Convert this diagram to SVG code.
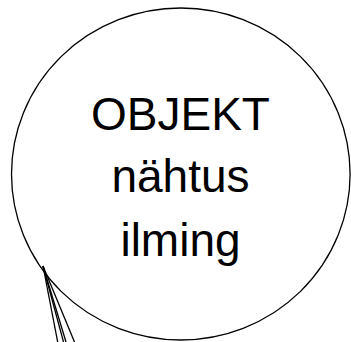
<svg xmlns="http://www.w3.org/2000/svg" width="351" height="342" viewBox="0 0 351 342">
<style>
.shape{fill:#fff;stroke:#000;stroke-width:1.3}
.conn{stroke:#000;stroke-width:1.3;fill:none}
.lbl{font-family:"Liberation Sans",Arial,sans-serif;font-size:46px;fill:#000;text-anchor:middle}
</style>
<rect width="351" height="342" fill="#fff"/>
<g id="objekt">
<ellipse class="shape" cx="180.8" cy="174" rx="169.3" ry="166"/>
<text class="lbl" x="180.5" y="129.5">OBJEKT</text>
<text class="lbl" x="180.5" y="192">nähtus</text>
<text class="lbl" x="180.5" y="256">ilming</text>
</g>
<g id="connectors">
<line class="conn" x1="43" y1="266" x2="57.7" y2="342"/>
<line class="conn" x1="43" y1="266" x2="63.5" y2="342"/>
<line class="conn" x1="43" y1="266" x2="66" y2="342"/>
<line class="conn" x1="43" y1="266" x2="74.5" y2="342"/>
</g>
</svg>
